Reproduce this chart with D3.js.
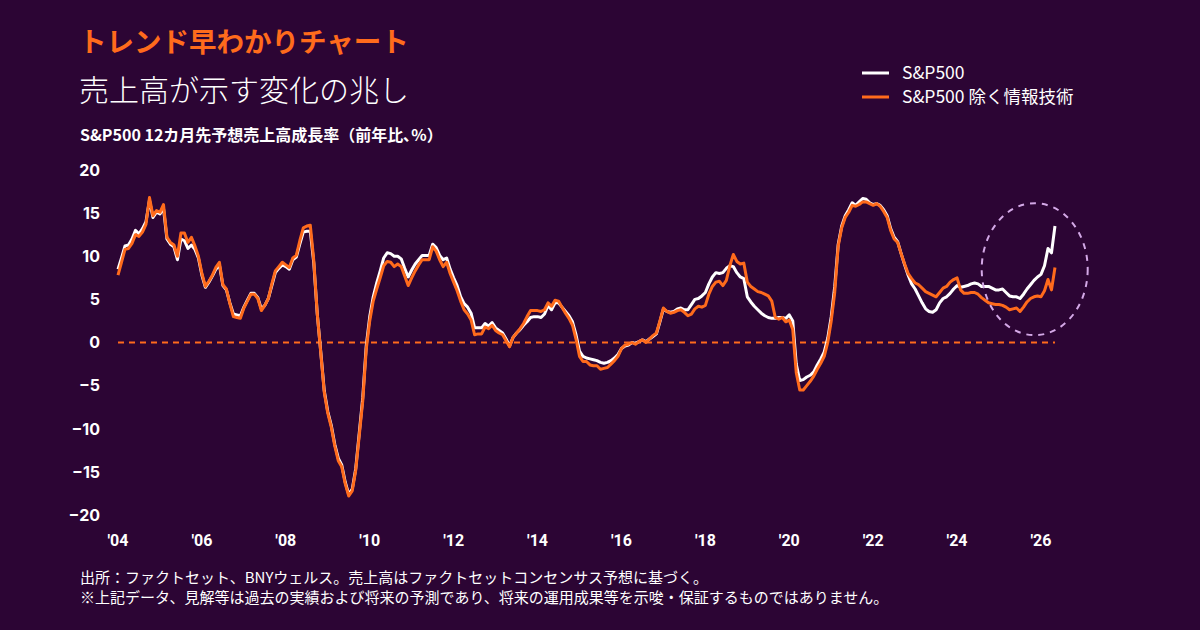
<!DOCTYPE html>
<html>
<head>
<meta charset="utf-8">
<script src="https://cdn.jsdelivr.net/npm/d3@7"></script>
<style>
  html, body { margin: 0; padding: 0; background: #2c0534; }
  svg { display: block; }
  text { font-family: "Noto Sans CJK JP", "Noto Sans", sans-serif; }
</style>
</head>
<body>
<div id="chart"></div>
<script>
// monthly values, Jan 2004 .. May 2026
var startYear = 2004;
var spx = [
  8.5, 9.8, 11.2, 11.3, 12.0, 13.0, 12.6, 13.2, 14.0, 16.5, 14.5, 15.1,
  14.9, 15.6, 12.0, 11.4, 11.1, 9.6, 12.0, 11.8, 10.9, 11.3, 10.8, 9.8,
  7.8, 6.4, 7.0, 7.7, 8.5, 9.0, 6.6, 6.1, 4.6, 3.3, 3.2, 3.1,
  4.1, 4.9, 5.7, 5.7, 5.2, 3.9, 4.3, 5.1, 6.6, 8.1, 8.6, 9.0,
  8.8, 8.5, 9.6, 9.9, 11.4, 12.8, 12.9, 12.9, 9.2, 3.3, -1.1, -5.6,
  -8.0, -9.6, -11.8, -13.4, -14.2, -16.2, -17.6, -17.0, -14.6, -10.5, -6.4, -0.4,
  3.0, 5.3, 6.9, 8.3, 9.8, 10.4, 10.3, 10.0, 10.0, 9.7, 8.6, 7.6,
  8.4, 9.1, 9.6, 10.1, 10.1, 10.1, 11.4, 11.0, 10.1, 9.6, 9.8, 8.5,
  7.5, 6.6, 5.3, 4.5, 4.1, 3.4, 1.7, 1.7, 1.7, 2.2, 1.9, 2.3,
  1.7, 1.4, 1.1, 0.4, -0.4, 0.6, 1.1, 1.5, 2.0, 2.4, 2.9, 3.0,
  3.0, 2.9, 3.3, 4.3, 3.8, 4.6, 4.6, 4.1, 3.6, 3.1, 2.4, 0.9,
  -1.0, -1.6, -1.8, -1.9, -2.0, -2.1, -2.3, -2.4, -2.3, -2.1, -1.8, -1.4,
  -0.7, -0.4, -0.3, 0.0, -0.1, 0.1, 0.3, 0.1, 0.4, 0.7, 1.0, 2.4,
  3.9, 3.6, 3.5, 3.6, 3.9, 4.0, 3.8, 3.8, 4.4, 5.0, 5.1, 5.4,
  5.8, 6.8, 7.6, 8.1, 8.0, 8.1, 8.6, 8.9, 8.8, 8.1, 7.6, 7.4,
  5.3, 4.7, 4.2, 3.8, 3.4, 3.1, 2.9, 2.8, 2.8, 2.9, 2.9, 2.8,
  3.2, 2.5, -2.5, -4.4, -4.3, -4.0, -3.8, -3.4, -2.6, -1.9, -1.1, 0.5,
  3.0, 6.5, 11.4, 13.5, 14.7, 15.4, 16.2, 15.9, 16.3, 16.7, 16.6, 16.2,
  16.0, 16.1, 15.9, 15.4, 14.7, 13.2, 12.2, 11.7, 10.3, 9.0, 7.8, 6.8,
  6.2, 5.4, 4.6, 3.9, 3.6, 3.5, 3.8, 4.6, 5.1, 5.3, 5.7, 6.2,
  6.6, 6.4, 6.5, 6.6, 6.8, 6.9, 6.8, 6.5, 6.5, 6.5, 6.3, 6.1,
  6.1, 6.2, 5.8, 5.4, 5.3, 5.3, 5.1, 5.6, 6.2, 6.7, 7.2, 7.6,
  7.9, 8.9, 10.9, 10.4, 13.5
];
var spxExTech = [
  7.8, 9.3, 10.8, 10.9, 11.5, 12.5, 12.3, 12.8, 13.7, 16.8, 14.7, 15.3,
  15.1, 16.0, 12.2, 11.6, 11.3, 10.0, 12.7, 12.7, 11.6, 12.2, 11.2, 10.0,
  8.0, 6.5, 7.1, 7.8, 8.7, 9.3, 6.7, 6.2, 4.5, 3.0, 2.9, 2.8,
  4.0, 4.8, 5.6, 5.6, 5.1, 3.7, 4.3, 5.1, 6.8, 8.3, 8.8, 9.3,
  9.0, 8.7, 9.8, 10.1, 11.8, 13.3, 13.5, 13.6, 9.5, 3.3, -1.2, -5.8,
  -8.2, -9.8, -12.0, -13.7, -14.4, -16.4, -17.8, -17.2, -14.8, -10.8, -6.8, -0.8,
  2.5, 4.8, 6.2, 7.5, 8.9, 9.4, 9.3, 8.8, 9.1, 8.8, 7.7, 6.6,
  7.5, 8.3, 9.0, 9.6, 9.6, 9.6, 11.1, 10.6, 9.6, 8.8, 9.3, 8.0,
  7.0, 6.0, 4.8, 3.8, 3.3, 2.6, 0.9, 1.0, 1.0, 1.8, 1.6, 2.0,
  1.4, 1.1, 0.9, 0.2, -0.5, 0.6, 1.1, 1.6, 2.2, 3.0, 3.7, 3.7,
  3.7, 3.6, 3.8, 4.6, 4.2, 4.9, 4.8, 4.1, 3.4, 2.8, 2.0, 0.4,
  -1.6, -2.2, -2.2, -2.6, -2.7, -2.7, -3.1, -3.0, -2.9, -2.5, -2.1, -1.6,
  -0.7, -0.3, -0.2, 0.0, -0.2, 0.1, 0.3, 0.0, 0.4, 0.8, 1.1, 2.5,
  4.0, 3.6, 3.4, 3.5, 3.7, 3.8, 3.5, 3.1, 3.3, 3.9, 4.2, 4.1,
  4.3, 5.6, 6.5, 7.0, 7.1, 6.6, 7.2, 8.9, 10.2, 9.4, 9.1, 9.2,
  7.0, 6.5, 6.2, 5.9, 5.8, 5.6, 5.4, 4.8, 2.9, 2.7, 2.9, 2.4,
  2.6, 1.5, -3.5, -5.5, -5.5, -5.0, -4.5, -3.9, -3.1, -2.4, -1.6, 0.0,
  2.5, 5.8, 11.2, 13.3, 14.5, 15.1, 15.9, 15.8, 16.0, 16.3, 16.3, 16.1,
  15.9, 16.1, 15.8, 15.2, 14.5, 13.0, 12.0, 11.6, 10.3, 9.1, 8.0, 7.4,
  6.9, 6.7, 6.3, 5.9, 5.7, 5.5, 5.3, 5.8, 6.3, 6.5, 7.0, 7.3,
  7.5, 6.1, 5.7, 5.7, 5.8, 5.8, 5.6, 5.2, 4.9, 4.6, 4.5, 4.4,
  4.4, 4.3, 4.1, 3.8, 3.9, 4.0, 3.6, 4.1, 4.7, 5.1, 5.3, 5.4,
  5.3, 6.0, 7.3, 6.1, 8.7
];
var yTicks = [20, 15, 10, 5, 0, -5, -10, -15, -20];
var xTicks = [2004, 2006, 2008, 2010, 2012, 2014, 2016, 2018, 2020, 2022, 2024, 2026];
var legendLabels = ["S&P500", "S&P500 除く情報技術"];

var width = 1200, height = 630;
var orange = "#ff6b1c", white = "#ffffff", bg = "#2c0534";

var svg = d3.select("#chart").append("svg")
    .attr("width", width).attr("height", height);
svg.append("rect").attr("width", width).attr("height", height).attr("fill", bg);

var x = d3.scaleLinear().domain([2004, 2026]).range([118, 1041]);
var y = d3.scaleLinear().domain([-20, 20]).range([515, 170]);

// titles
svg.append("text").attr("x", 79).attr("y", 52)
    .attr("fill", orange).attr("font-size", 27.5).attr("font-weight", 700)
    .text("トレンド早わかりチャート");
svg.append("text").attr("x", 79).attr("y", 101)
    .attr("fill", white).attr("font-size", 30).attr("font-weight", 300)
    .text("売上高が示す変化の兆し");
svg.append("text").attr("x", 80).attr("y", 141)
    .attr("fill", white).attr("font-size", 16).attr("font-weight", 700)
    .text("S&P500 12カ月先予想売上高成長率（前年比､%）");

// y axis labels
svg.selectAll(".ylab").data(yTicks).enter()
  .append("text")
    .attr("class", "ylab")
    .attr("x", 100).attr("y", function(d) { return y(d); })
    .attr("dy", "0.36em")
    .attr("text-anchor", "end")
    .attr("fill", white).attr("font-size", 16).attr("font-weight", 700)
    .style("font-family", "Inter, 'Noto Sans', sans-serif")
    .text(function(d) { return d < 0 ? "\u2212" + Math.abs(d) : d; });

// x axis labels
svg.selectAll(".xlab").data(xTicks).enter()
  .append("text")
    .attr("class", "xlab")
    .attr("x", function(d) { return x(d); }).attr("y", 546)
    .attr("text-anchor", "middle")
    .attr("fill", white).attr("font-size", 16).attr("font-weight", 700)
    .style("font-family", "'Liberation Sans Narrow', 'Roboto', sans-serif")
    .text(function(d) { return "'" + String(d).slice(2); });

// zero line
var lastT = startYear + (spx.length - 1) / 12;
svg.append("line")
    .attr("x1", x(2004)).attr("x2", x(lastT))
    .attr("y1", y(0)).attr("y2", y(0))
    .attr("stroke", orange).attr("stroke-width", 2)
    .attr("stroke-dasharray", "6,5");

var line = d3.line()
    .x(function(d, i) { return x(startYear + i / 12); })
    .y(function(d) { return y(d); });

svg.append("path").datum(spx)
    .attr("d", line).attr("fill", "none")
    .attr("stroke", white).attr("stroke-width", 3)
    .attr("stroke-linejoin", "round");
svg.append("path").datum(spxExTech)
    .attr("d", line).attr("fill", "none")
    .attr("stroke", orange).attr("stroke-width", 3)
    .attr("stroke-linejoin", "round");

// highlight ellipse around latest data
svg.append("ellipse")
    .attr("cx", x(2025.85)).attr("cy", y(8.5))
    .attr("rx", 53).attr("ry", 66)
    .attr("fill", "none").attr("stroke", "#d3a8e6")
    .attr("stroke-width", 2).attr("stroke-dasharray", "6,6");

// legend
var legend = svg.selectAll(".leg").data(legendLabels).enter()
  .append("g").attr("class", "leg")
    .attr("transform", function(d, i) { return "translate(862," + (73 + i * 24) + ")"; });
legend.append("line")
    .attr("x1", 0).attr("x2", 27).attr("y1", 0).attr("y2", 0)
    .attr("stroke", function(d, i) { return i === 0 ? white : orange; })
    .attr("stroke-width", 3);
legend.append("text")
    .attr("x", 40).attr("y", 0).attr("dy", "0.36em")
    .attr("fill", white).attr("font-size", 17.5)
    .text(function(d) { return d; });

// footnotes
var notes = [
  "出所：ファクトセット、BNYウェルス。売上高はファクトセットコンセンサス予想に基づく。",
  "※上記データ、見解等は過去の実績および将来の予測であり、将来の運用成果等を示唆・保証するものではありません。"
];
svg.selectAll(".note").data(notes).enter()
  .append("text")
    .attr("class", "note")
    .attr("x", 80).attr("y", function(d, i) { return 583 + i * 20; })
    .attr("fill", white).attr("font-size", 15)
    .text(function(d) { return d; });
</script>
</body>
</html>
